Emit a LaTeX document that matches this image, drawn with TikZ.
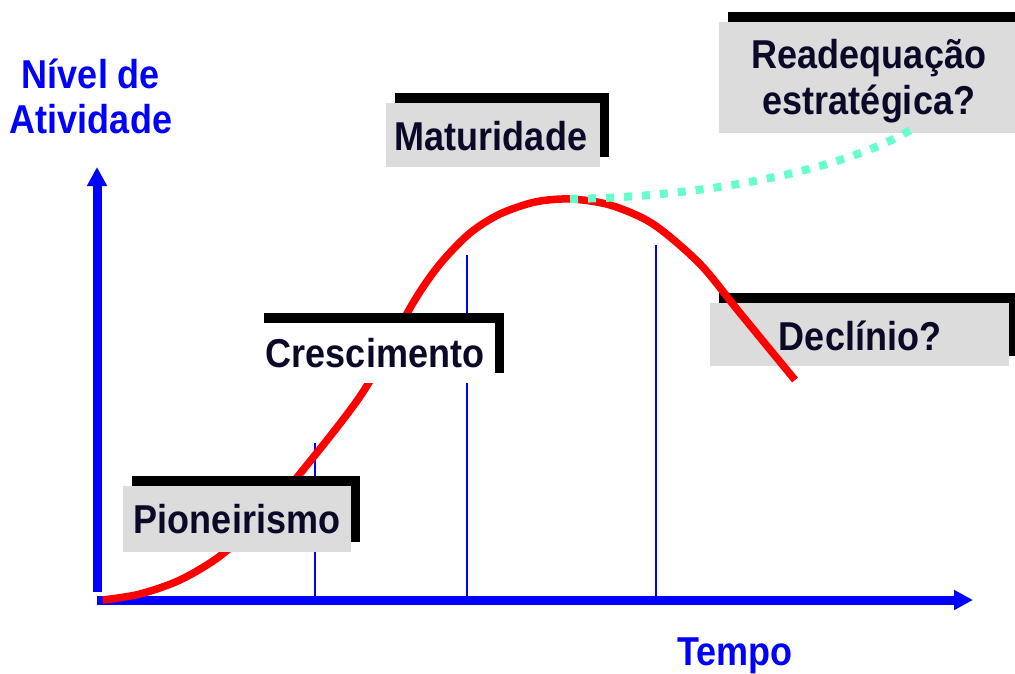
\documentclass[tikz,border=0pt]{standalone}
\usepackage{fontspec}
\setmainfont{Liberation Sans}
\usetikzlibrary{shadows,arrows.meta}
\definecolor{navy}{RGB}{10,10,40}
\definecolor{boxgray}{RGB}{220,220,220}
\definecolor{mint}{RGB}{102,255,204}
\newcommand{\stx}[1]{\scalebox{1}[1.12]{#1}}
\begin{document}
\begin{tikzpicture}[x=1pt,y=-1pt,
  lbox/.style={fill=boxgray, draw=none, inner sep=0pt,
    copy shadow={shadow xshift=9pt, shadow yshift=10pt, fill=black, draw=none}},
  ltext/.style={anchor=base, inner sep=0pt, text=navy, font=\fontsize{36}{40}\selectfont\bfseries},
  btext/.style={ltext, text=blue},
  axis/.style={draw=blue, line width=9pt, -{Triangle[length=19pt,width=19pt]}},
  grid/.style={draw=blue, line width=1.3pt},
  curve/.style={draw=red, line width=7.5pt},
  future/.style={draw=mint, line width=8pt, dash pattern=on 8pt off 10pt}
]
\useasboundingbox (0,0) rectangle (1015,673);
\clip (0,0) rectangle (1015,673);

% Declinio box (below the curve)
\node[lbox, minimum width=299pt, minimum height=63pt] (decbox) at (859.5,334.5) {};

% thin vertical lines
\coordinate (g1t) at (315,443); \coordinate (g1b) at (315,596);
\coordinate (g2t) at (467,255); \coordinate (g2b) at (467,596);
\coordinate (g3t) at (656,245); \coordinate (g3b) at (656,596);
\draw[grid] (g1t) -- (g1b);
\draw[grid] (g2t) -- (g2b);
\draw[grid] (g3t) -- (g3b);

% axes
\coordinate (ybot) at (97,592);
\coordinate (ytop) at (97,167);
\coordinate (xbeg) at (97,600);
\coordinate (xend) at (973,600);
\draw[axis] (ybot) -- (ytop);
\draw[axis] (xbeg) -- (xend);

% life-cycle curve
\draw[curve] plot[smooth, tension=0.5] coordinates {
  (103,600) (140,594) (180,580) (220,556) (263,517) (303,470) (363,392)
  (413,303) (440,264) (470,233) (500,214) (535,202) (570,199)
  (610,205) (653,224) (700,264) (740,313) (795,380)};

% other boxes
\node[lbox, minimum width=228pt, minimum height=66pt] (piobox) at (237,519) {};
\node[lbox, fill=white, minimum width=240pt, minimum height=60pt] (crebox) at (375,353) {};
\node[lbox, minimum width=214pt, minimum height=64pt] (matbox) at (493,135) {};
\node[lbox, minimum width=306pt, minimum height=111pt] (reabox) at (872,77.5) {};

% strategic readjustment
\coordinate (peak) at (570,199);
\coordinate (reaend) at (917,126);
\draw[future] (peak) .. controls (700,197) and (845,172) .. (reaend);

% texts
\node[ltext] (pio) at (237,533) {\stx{Pioneirismo}};
\node[ltext] (cre) at (375,367) {\stx{Crescimento}};
\node[ltext] (mat) at (491,150) {\stx{Maturidade}};
\node[ltext] (dec) at (860,350) {\stx{Declínio?}};
\node[ltext] (rea1) at (869,68) {\stx{Readequação}};
\node[ltext] (rea2) at (869,114) {\stx{estratégica?}};
\node[btext] (niv1) at (91,88) {\stx{Nível de}};
\node[btext] (niv2) at (91,133) {\stx{Atividade}};
\node[btext] (tempo) at (735,665) {\stx{Tempo}};
\end{tikzpicture}
\end{document}
